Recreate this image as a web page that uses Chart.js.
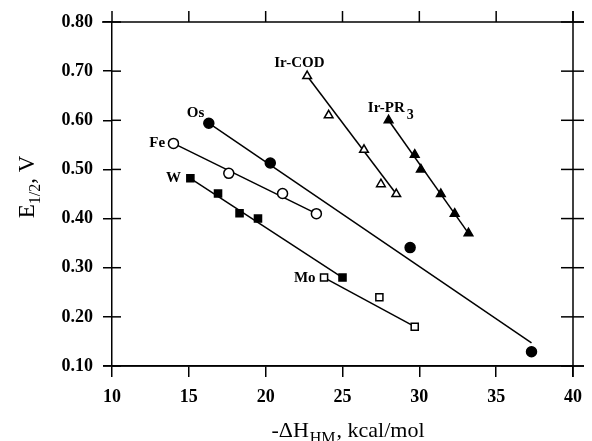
<!DOCTYPE html>
<html>
<head>
<meta charset="utf-8">
<script src="https://cdn.jsdelivr.net/npm/chart.js@4/dist/chart.umd.min.js"></script>
<style>
  html, body { margin: 0; padding: 0; background: #fff; }
  #wrap { width: 592px; height: 441px; position: relative; }
</style>
</head>
<body>
<div id="wrap"><canvas id="graph"></canvas></div>
<script>
// measured points, -dH (kcal/mol) vs E1/2 (V)
const osX = [16.3, 20.3, 29.4, 37.3];
const osY = [0.594, 0.513, 0.341, 0.129];
const feX = [14.0, 17.6, 21.1, 23.3];
const feY = [0.553, 0.492, 0.451, 0.41];
const wX = [15.1, 16.9, 18.3, 19.5, 25.0];
const wY = [0.482, 0.451, 0.411, 0.40, 0.28];
const moX = [23.8, 27.4, 29.7];
const moY = [0.28, 0.24, 0.18];
const irCodX = [22.7, 24.1, 26.4, 27.5, 28.5];
const irCodY = [0.69, 0.61, 0.54, 0.47, 0.45];
const irPrX = [28.0, 29.7, 30.1, 31.4, 32.3, 33.2];
const irPrY = [0.60, 0.53, 0.50, 0.45, 0.41, 0.37];

// fitted line ends as drawn
const osFitX = [16.3, 37.3], osFitY = [0.594, 0.147];
const feFitX = [14.0, 23.3], feFitY = [0.553, 0.41];
const wFitX = [15.1, 25.0], wFitY = [0.482, 0.28];
const moFitX = [23.8, 29.7], moFitY = [0.28, 0.18];
const irCodFitX = [22.7, 28.5], irCodFitY = [0.69, 0.45];
const irPrFitX = [28.0, 33.2], irPrFitY = [0.60, 0.37];

const xTicks = [10, 15, 20, 25, 30, 35, 40];
const yTicks = [0.1, 0.2, 0.3, 0.4, 0.5, 0.6, 0.7, 0.8];

// series labels: text, subscript, anchor (data units)
const seriesNames = ['Os', 'Fe', 'W', 'Mo', 'Ir-COD', 'Ir-PR'];
const seriesSubs = ['', '', '', '', '', '3'];
const nameX = [14.87, 12.43, 13.52, 21.84, 20.56, 26.65];
const nameY = [0.607, 0.546, 0.474, 0.271, 0.708, 0.617];

function pts(xs, ys) {
    return xs.map((x, i) => ({ x: x, y: ys[i] }));
}

function markers(xs, ys, style, filled, r) {
    return {
        type: 'scatter',
        data: pts(xs, ys),
        pointStyle: style,
        pointRadius: r,
        pointHoverRadius: r,
        pointBorderWidth: 1.5,
        pointBorderColor: '#000',
        pointBackgroundColor: filled ? '#000' : '#fff',
        showLine: false,
        order: 0
    };
}

function fitLine(xs, ys) {
    return {
        type: 'line',
        data: pts(xs, ys),
        borderColor: '#000',
        borderWidth: 1.5,
        pointRadius: 0,
        fill: false,
        order: 1
    };
}

const SERIF = '"Liberation Serif", "DejaVu Serif", serif';

const decor = {
    id: 'decor',
    afterDraw(chart) {
        const ctx = chart.ctx;
        const a = chart.chartArea;
        const xs = chart.scales.x, ys = chart.scales.y;
        ctx.save();
        ctx.strokeStyle = '#000';
        ctx.lineWidth = 1.5;
        function seg(x1, y1, x2, y2) {
            ctx.beginPath(); ctx.moveTo(x1, y1); ctx.lineTo(x2, y2); ctx.stroke();
        }
        // frame
        seg(a.left - 10, a.top, a.right + 11, a.top);
        seg(a.right, a.top - 11, a.right, a.bottom + 11);
        seg(a.left - 9, a.bottom, a.right + 11, a.bottom);
        // top ticks (outward), left ticks inward part, right ticks crossing
        xTicks.forEach(v => {
            const px = xs.getPixelForValue(v);
            seg(px, a.top, px, a.top - 11);
        });
        yTicks.forEach(v => {
            const py = ys.getPixelForValue(v);
            seg(a.left, py, a.left + 9, py);
            seg(a.right - 12, py, a.right + 11, py);
        });

        // series labels
        ctx.fillStyle = '#000';
        ctx.textBaseline = 'alphabetic';
        ctx.textAlign = 'left';
        seriesNames.forEach((t, i) => {
            ctx.font = 'bold 15px ' + SERIF;
            const px = xs.getPixelForValue(nameX[i]);
            const py = ys.getPixelForValue(nameY[i]);
            ctx.fillText(t, px, py);
            if (seriesSubs[i]) {
                const w = ctx.measureText(t).width;
                ctx.font = 'bold 14px ' + SERIF;
                ctx.fillText(seriesSubs[i], px + w + 2, py + 7);
            }
        });

        // x axis title
        ctx.font = '22px ' + SERIF;
        const p1 = '-\u0394H', sub = 'HM', p2 = ', kcal/mol';
        const w1 = ctx.measureText(p1).width;
        const w3 = ctx.measureText(p2).width;
        ctx.font = '16px ' + SERIF;
        const w2 = ctx.measureText(sub).width;
        let x0 = 347 - (w1 + w2 + w3) / 2;
        const base = 437;
        ctx.font = '22px ' + SERIF;
        ctx.fillText(p1, x0, base);
        ctx.font = '16px ' + SERIF;
        ctx.fillText(sub, x0 + w1 + 1, base + 6);
        ctx.font = '22px ' + SERIF;
        ctx.fillText(p2, x0 + w1 + w2 + 2, base);

        // y axis title, rotated
        ctx.translate(34, 187);
        ctx.rotate(-Math.PI / 2);
        ctx.font = '23px ' + SERIF;
        const q1 = 'E', qs = '1/2', q2 = ', V';
        const v1 = ctx.measureText(q1).width;
        const v3 = ctx.measureText(q2).width;
        ctx.font = '16px ' + SERIF;
        const v2 = ctx.measureText(qs).width;
        let y0 = -(v1 + v2 + v3) / 2;
        ctx.font = '23px ' + SERIF;
        ctx.fillText(q1, y0, 0);
        ctx.font = '16px ' + SERIF;
        ctx.fillText(qs, y0 + v1, 6);
        ctx.font = '23px ' + SERIF;
        ctx.fillText(q2, y0 + v1 + v2, 0);
        ctx.restore();
    }
};

var ctx = document.getElementById('graph').getContext('2d');
var myChart = new Chart(ctx, {
    type: 'scatter',
    data: {
        datasets: [
            fitLine(osFitX, osFitY),
            fitLine(feFitX, feFitY),
            fitLine(wFitX, wFitY),
            fitLine(moFitX, moFitY),
            fitLine(irCodFitX, irCodFitY),
            fitLine(irPrFitX, irPrFitY),
            markers(osX, osY, 'circle', true, 5),
            markers(feX, feY, 'circle', false, 5),
            markers(wX, wY, 'rect', true, 5),
            markers(moX, moY, 'rect', false, 5),
            markers(irCodX, irCodY, 'triangle', false, 5),
            markers(irPrX, irPrY, 'triangle', true, 5)
        ]
    },
    options: {
        responsive: true,
        maintainAspectRatio: false,
        animation: false,
        layout: { padding: { top: 22, right: 11, left: 0, bottom: 0 } },
        plugins: {
            legend: { display: false },
            tooltip: { enabled: false }
        },
        scales: {
            x: {
                type: 'linear',
                min: 10,
                max: 40,
                afterFit: s => { s.height = 75; },
                afterBuildTicks: s => { s.ticks = xTicks.map(v => ({ value: v })); },
                border: { display: true, color: '#000', width: 1.5 },
                grid: {
                    drawOnChartArea: false,
                    drawTicks: true,
                    tickLength: 11,
                    color: '#000',
                    lineWidth: 1.5
                },
                ticks: {
                    color: '#000',
                    padding: 10,
                    maxRotation: 0,
                    font: { family: SERIF, size: 18, weight: 'bold' },
                    callback: v => String(v)
                }
            },
            y: {
                type: 'linear',
                min: 0.1,
                max: 0.8,
                afterFit: s => { s.width = 112; },
                afterBuildTicks: s => { s.ticks = yTicks.map(v => ({ value: v })); },
                border: { display: true, color: '#000', width: 1.5 },
                grid: {
                    drawOnChartArea: false,
                    drawTicks: true,
                    tickLength: 9,
                    color: '#000',
                    lineWidth: 1.5
                },
                ticks: {
                    color: '#000',
                    padding: 10,
                    font: { family: SERIF, size: 18, weight: 'bold' },
                    callback: v => v.toFixed(2)
                }
            }
        }
    },
    plugins: [decor]
});
</script>
</body>
</html>
